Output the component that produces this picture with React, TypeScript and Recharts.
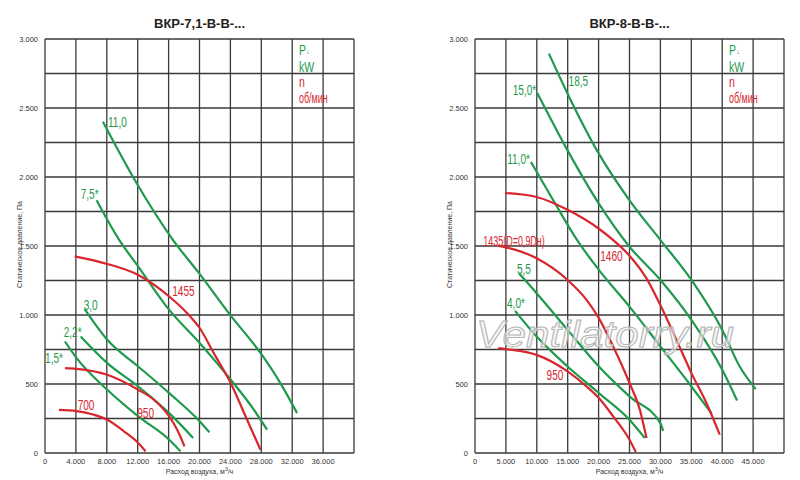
import React from 'react';
import { LineChart, Line, XAxis, YAxis, CartesianGrid } from 'recharts';

// ---------- data (x: m³/h, y: Pa) ----------
const leftXTicks = [0, 4000, 8000, 12000, 16000, 20000, 24000, 28000, 32000, 36000, 40000];
const rightXTicks = [0, 5000, 10000, 15000, 20000, 25000, 30000, 35000, 40000, 45000, 50000];
const yTicks = [0, 250, 500, 750, 1000, 1250, 1500, 1750, 2000, 2250, 2500, 2750, 3000];

// Left chart: ВКР-7,1
const pw110L = [[7500, 2400], [11640, 1976], [16600, 1541], [19960, 1302], [23970, 1001], [28060, 712], [30470, 506], [32630, 289]];
const pw75L = [[6680, 1831], [9600, 1544], [12070, 1351], [16080, 1037], [20040, 796], [24050, 531], [27030, 314], [28750, 169]];
const pw30L = [[5130, 1042], [8060, 820], [12070, 627], [16080, 434], [20040, 229], [21290, 150]];
const pw22L = [[4610, 844], [8060, 651], [12070, 482], [16080, 289], [19180, 109]];
const pw15L = [[2590, 808], [4095, 687], [8060, 458], [12070, 265], [16080, 96], [17540, 12]];
const rpm1455 = [[3836, 1425], [8060, 1370], [12070, 1290], [16080, 1134], [18400, 1013], [20040, 904], [21850, 724], [24050, 506], [26160, 241], [27890, 24]];
const rpm950L = [[2590, 615], [4095, 610], [8060, 567], [12070, 458], [14090, 386], [16080, 265], [17110, 169], [18060, 48]];
const rpm700 = [[1810, 313], [4095, 304], [6340, 277], [8060, 241], [10220, 157], [12070, 72], [13020, 12]];

// Right chart: ВКР-8
const pw185 = [[11960, 2894], [14980, 2604], [20040, 2169], [25000, 1831], [30010, 1543], [35020, 1254], [40010, 892], [42830, 627], [45420, 463]];
const pw150 = [[10080, 2609], [14980, 2193], [20040, 1807], [25000, 1495], [30010, 1254], [35020, 965], [40010, 603], [42400, 381]];
const pw110R = [[9050, 2109], [12660, 1831], [16500, 1544], [20040, 1327], [25000, 1061], [30010, 772], [35020, 482], [38300, 285]];
const pw55 = [[7110, 1302], [9970, 1158], [14980, 892], [20040, 627], [25000, 410], [30010, 215], [30440, 160]];
const pw40 = [[6470, 1030], [9970, 844], [14980, 627], [20040, 434], [25000, 241], [27480, 108]];
const rpm1435 = [[3770, 1500], [5010, 1490], [9970, 1411], [14980, 1254], [18050, 1110], [20040, 977], [22360, 772], [25000, 507], [26670, 314], [27750, 108]];
const rpm1460 = [[4850, 1884], [9970, 1855], [14980, 1762], [20040, 1625], [22360, 1543], [25000, 1430], [27750, 1265], [30010, 1070], [32600, 820], [35020, 579], [37450, 362], [39600, 133]];
const rpm950R = [[3770, 760], [5010, 753], [9970, 711], [14980, 591], [18050, 482], [20040, 398], [22360, 265], [25000, 96], [26020, 7]];

// ---------- styling ----------
const GREEN = '#1f9a4c';
const RED = '#d8262e';
const GRID = '#3a3a3a';
const SANS = '"Liberation Sans", Arial, sans-serif';
const SQUEEZE = 0.72;

type Series = {
  key: string;
  pts: number[][];
  color: string;
  label: string;
  li: number;
  dx: number;
  dy: number;
  anchor: 'start' | 'end';
  sq?: number;
};

const leftSeries: Series[] = [
  { key: 'p110', pts: pw110L, color: GREEN, label: '11,0', li: 0, dx: 5, dy: 5, anchor: 'start' },
  { key: 'p75', pts: pw75L, color: GREEN, label: '7,5*', li: 0, dx: 2, dy: -1, anchor: 'end' },
  { key: 'p30', pts: pw30L, color: GREEN, label: '3,0', li: 0, dx: -1, dy: 1, anchor: 'start' },
  { key: 'p22', pts: pw22L, color: GREEN, label: '2,2*', li: 0, dx: 1, dy: 0, anchor: 'end' },
  { key: 'p15', pts: pw15L, color: GREEN, label: '1,5*', li: 0, dx: -2, dy: 22, anchor: 'end' },
  { key: 'n1455', pts: rpm1455, color: RED, label: '1455', li: 3, dx: 3, dy: -1, anchor: 'start' },
  { key: 'n950', pts: rpm950L, color: RED, label: '950', li: 3, dx: -1, dy: 28, anchor: 'start' },
  { key: 'n700', pts: rpm700, color: RED, label: '700', li: 1, dx: 1, dy: -1, anchor: 'start' },
];

const rightSeries: Series[] = [
  { key: 'p185', pts: pw185, color: GREEN, label: '18,5', li: 1, dx: 1, dy: -8, anchor: 'start' },
  { key: 'p150', pts: pw150, color: GREEN, label: '15,0*', li: 0, dx: -1, dy: 2, anchor: 'end' },
  { key: 'p110', pts: pw110R, color: GREEN, label: '11,0*', li: 0, dx: -1, dy: 2, anchor: 'end' },
  { key: 'p55', pts: pw55, color: GREEN, label: '5,5', li: 0, dx: -2, dy: 1, anchor: 'start' },
  { key: 'p40', pts: pw40, color: GREEN, label: '4,0*', li: 0, dx: -8, dy: -3, anchor: 'start' },
  { key: 'n1435', pts: rpm1435, color: RED, label: '1435(D=0,9Dн)', li: 0, dx: -15, dy: 0, anchor: 'start', sq: 0.64 },
  { key: 'n1460', pts: rpm1460, color: RED, label: '1460', li: 4, dx: -13, dy: 21, anchor: 'start' },
  { key: 'n950', pts: rpm950R, color: RED, label: '950', li: 2, dx: 10, dy: 25, anchor: 'start' },
];

const fmt = (v: number) => {
  if (v === 0) return '0';
  if (v >= 1000) {
    const th = Math.floor(v / 1000);
    const rest = String(v % 1000).padStart(3, '0');
    return `${th}.${rest}`;
  }
  return String(v);
};

const yFmt = (v: number) => (v % 500 === 0 ? fmt(v) : '');

type PanelProps = {
  left: number;
  title: string;
  xTicks: number[];
  xMax: number;
  series: Series[];
  yAxisWidth: number;
  marginRight: number;
  watermark?: boolean;
};

const Panel = ({ left, title, xTicks, xMax, series, yAxisWidth, marginRight, watermark }: PanelProps) => {
  const plotLeft = yAxisWidth;
  const plotRight = 400 - marginRight;
  const plotCenter = (plotLeft + plotRight) / 2;
  const plotTop = 39;
  const legX = plotRight - 55;
  return (
    <div style={{ position: 'absolute', left, top: 0, width: 400, height: 480 }}>
      <LineChart width={400} height={480} margin={{ top: plotTop, right: marginRight, bottom: 0, left: 0 }}>
        <CartesianGrid stroke={GRID} strokeWidth={1.3} />
        <XAxis
          type="number"
          dataKey="x"
          domain={[0, xMax]}
          ticks={xTicks}
          interval={0}
          tickFormatter={(v: number) => (v === xMax ? '' : fmt(v))}
          tick={{ fontSize: 7.5, fill: '#333', fontFamily: SANS }}
          tickSize={0}
          tickMargin={6}
          axisLine={false}
          tickLine={false}
          height={27}
          allowDuplicatedCategory={false}
        />
        <YAxis
          type="number"
          dataKey="y"
          domain={[0, 3000]}
          ticks={yTicks}
          interval={0}
          tickFormatter={yFmt}
          tick={{ fontSize: 7.5, fill: '#333', fontFamily: SANS }}
          tickSize={0}
          tickMargin={7}
          axisLine={false}
          tickLine={false}
          width={yAxisWidth}
        />
        {series.map((s) => (
          <Line
            key={s.key}
            data={s.pts.map(([x, y]) => ({ x, y }))}
            dataKey="y"
            type="monotone"
            stroke={s.color}
            strokeWidth={2.2}
            dot={false}
            activeDot={false}
            isAnimationActive={false}
            label={(p: any) =>
              p.index === s.li ? (
                <text
                  key={`${s.key}-lbl`}
                  transform={`translate(${p.x + s.dx},${p.y + s.dy}) scale(${s.sq ?? SQUEEZE},1)`}
                  x={0}
                  y={0}
                  textAnchor={s.anchor}
                  fill={s.color}
                  fontSize={14}
                  fontFamily={SANS}
                >
                  {s.label}
                </text>
              ) : (
                <g key={`${s.key}-e${p.index}`} />
              )
            }
          />
        ))}
      </LineChart>
      {/* title */}
      <div
        style={{
          position: 'absolute',
          left: plotCenter - 100,
          width: 200,
          top: 16,
          textAlign: 'center',
          fontFamily: SANS,
          fontWeight: 'bold',
          fontSize: 13,
          color: '#222',
        }}
      >
        {title}
      </div>
      {/* axis titles */}
      <div
        style={{
          position: 'absolute',
          left: plotCenter - 100,
          width: 200,
          top: 466,
          textAlign: 'center',
          fontFamily: SANS,
          fontSize: 7,
          color: '#333',
        }}
      >
        Расход воздуха, м<sup style={{ fontSize: 5 }}>3</sup>/ч
      </div>
      <div
        style={{
          position: 'absolute',
          left: yAxisWidth - 26 - 100,
          top: 246 - 5,
          width: 200,
          textAlign: 'center',
          transform: 'rotate(-90deg)',
          fontFamily: SANS,
          fontSize: 7,
          color: '#333',
        }}
      >
        Статическое давление, Па
      </div>
      {/* legend + watermark overlay */}
      <svg style={{ position: 'absolute', left: 0, top: 0, pointerEvents: 'none' }} width={400} height={480}>
        {watermark && (
          <text
            x={205}
            y={347}
            textAnchor="middle"
            fontFamily={SANS}
            fontStyle="italic"
            fontSize={37}
            textLength={258}
            lengthAdjust="spacingAndGlyphs"
            fill="#f2f2f2"
            fillOpacity={0.6}
            stroke="#b4b4b4"
            strokeWidth={1}
          >
            Ventilatorry.ru
          </text>
        )}
        <g fontFamily={SANS} fontSize={14}>
          <g transform={`translate(${legX},55) scale(0.75,1)`}>
            <text x={0} y={0} fill={GREEN}>P</text>
            <text x={11} y={-1} fill={GREEN} fontSize={5}>L</text>
          </g>
          <text transform={`translate(${legX},72) scale(0.75,1)`} fill={GREEN}>kW</text>
          <text transform={`translate(${legX},87) scale(0.75,1)`} fill={RED}>n</text>
          <text transform={`translate(${legX},103) scale(0.64,1)`} fill={RED}>об/мин</text>
        </g>
      </svg>
    </div>
  );
};

export default function App() {
  return (
    <div style={{ position: 'absolute', left: 0, top: 0, width: 800, height: 480, background: '#fff', overflow: 'hidden' }}>
      <Panel
        left={0}
        title="ВКР-7,1-В-В-..."
        xTicks={leftXTicks}
        xMax={40000}
        series={leftSeries}
        yAxisWidth={45}
        marginRight={46}
      />
      <Panel
        left={400}
        title="ВКР-8-В-В-..."
        xTicks={rightXTicks}
        xMax={50000}
        series={rightSeries}
        yAxisWidth={75}
        marginRight={16}
        watermark
      />
    </div>
  );
}
